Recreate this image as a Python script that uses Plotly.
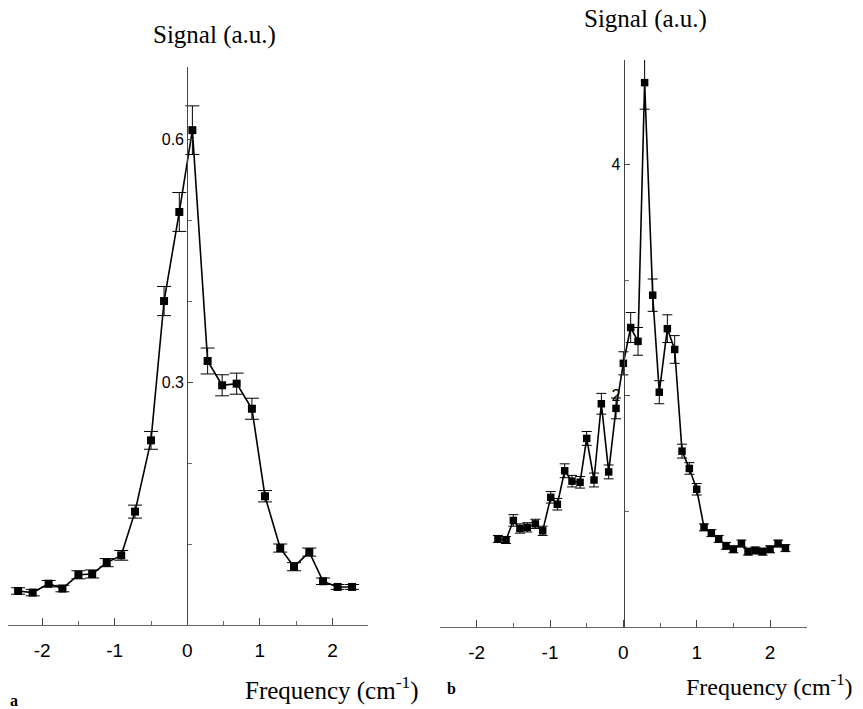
import plotly.graph_objects as go

# ---- Panel a data ----
freq_a = [-2.33, -2.13, -1.91, -1.72, -1.50, -1.31, -1.11, -0.91, -0.72, -0.50,
          -0.32, -0.11, 0.07, 0.28, 0.48, 0.68, 0.89, 1.07, 1.28, 1.47,
          1.68, 1.87, 2.07, 2.27]
signal_a = [0.042, 0.040, 0.051, 0.045, 0.062, 0.063, 0.077, 0.086, 0.140, 0.228,
            0.400, 0.510, 0.611, 0.326, 0.296, 0.298, 0.267, 0.159, 0.095, 0.072,
            0.090, 0.054, 0.047, 0.047]
err_a = [0.004, 0.004, 0.004, 0.004, 0.005, 0.005, 0.005, 0.006, 0.008, 0.011,
         0.018, 0.024, 0.030, 0.016, 0.013, 0.013, 0.013, 0.007, 0.005, 0.005,
         0.005, 0.004, 0.003, 0.003]

# ---- Panel b data ----
freq_b = [-1.71, -1.60, -1.50, -1.41, -1.31, -1.20, -1.10, -0.99, -0.90, -0.80,
          -0.70, -0.59, -0.50, -0.40, -0.30, -0.20, -0.10, 0.00, 0.10, 0.20,
          0.29, 0.40, 0.49, 0.60, 0.70, 0.80, 0.90, 1.00, 1.10, 1.20,
          1.30, 1.40, 1.50, 1.61, 1.70, 1.80, 1.90, 2.00, 2.11, 2.21]
signal_b = [0.76, 0.75, 0.92, 0.85, 0.86, 0.89, 0.83, 1.12, 1.06, 1.35,
            1.26, 1.25, 1.63, 1.27, 1.93, 1.34, 1.89, 2.28, 2.59, 2.47,
            4.71, 2.87, 2.03, 2.58, 2.40, 1.52, 1.37, 1.19, 0.86, 0.81,
            0.76, 0.70, 0.67, 0.72, 0.65, 0.66, 0.65, 0.67, 0.72, 0.68]
err_b = [0.03, 0.03, 0.05, 0.04, 0.04, 0.04, 0.04, 0.05, 0.05, 0.06,
         0.05, 0.05, 0.06, 0.06, 0.09, 0.06, 0.09, 0.10, 0.13, 0.12,
         0.23, 0.14, 0.10, 0.12, 0.12, 0.06, 0.05, 0.05, 0.03, 0.03,
         0.03, 0.03, 0.03, 0.03, 0.03, 0.03, 0.03, 0.03, 0.03, 0.03]

xticks = [-2, -1, 0, 1, 2]
xticktext = ["-2", "-1", "0", "1", "2"]
xminor = [-2.5, -1.5, -0.5, 0.5, 1.5, 2.5]
yticks_a = [0.3, 0.6]
yminor_a = [0.1, 0.2, 0.4, 0.5]
yticks_b = [2, 4]
yminor_b = [1, 3]

# page body has an 8px default margin: figure is placed at (8, 8)
OFF = 8
W, H = 863 - OFF, 709 - OFF

def px(x):
    return (x - OFF) / W

def py(y):
    return 1 - (y - OFF) / H

fig = go.Figure()
fig.add_trace(go.Scatter(
    x=freq_a, y=signal_a, mode="lines+markers",
    line=dict(color="black", width=1.6),
    marker=dict(symbol="square", size=8, color="black"),
    error_y=dict(type="data", array=err_a, visible=True, color="black",
                 thickness=1, width=7),
    cliponaxis=False, xaxis="x", yaxis="y", showlegend=False))
fig.add_trace(go.Scatter(
    x=freq_b, y=signal_b, mode="lines+markers",
    line=dict(color="black", width=1.6),
    marker=dict(symbol="square", size=7.5, color="black"),
    error_y=dict(type="data", array=err_b, visible=True, color="black",
                 thickness=1, width=5),
    cliponaxis=False, xaxis="x2", yaxis="y2", showlegend=False))

tickfont_x = dict(family="Liberation Sans, Arial", size=19, color="black")
tickfont_y = dict(family="Liberation Sans, Arial", size=16, color="black")

def xaxis_cfg(domain, rng, anchor):
    return dict(domain=domain, range=rng, anchor=anchor,
                showline=True, linecolor="#666", linewidth=1.2,
                showgrid=False, zeroline=False,
                tickvals=xticks, ticktext=xticktext, ticks="inside",
                ticklen=7, tickcolor="#444", tickfont=tickfont_x,
                ticklabelstandoff=8,
                minor=dict(tickvals=xminor, ticks="inside", ticklen=4,
                           tickcolor="#666"))

def yaxis_cfg(domain, rng, pos, tv, mv):
    return dict(domain=domain, range=rng, anchor="free", position=pos,
                showline=True, linecolor="#444", linewidth=1.2,
                showgrid=False, zeroline=False,
                tickvals=tv, ticks="inside", ticklen=5, tickcolor="#444",
                tickfont=tickfont_y, ticklabelstandoff=0,
                minor=dict(tickvals=mv, ticks="inside", ticklen=4,
                           tickcolor="#666"))

# panel a: zero at x=187.3 px, 72.6 px per unit; axis from 8 to 368 px
xa_rng = [(8 - 187.3) / 72.6, (368 - 187.3) / 72.6]

fig.update_layout(
    width=W, height=H, margin=dict(l=0, r=0, t=0, b=0),
    paper_bgcolor="white", plot_bgcolor="white",
    xaxis=xaxis_cfg([px(8), px(368)], xa_rng, "y"),
    yaxis=yaxis_cfg([py(625), py(67)], [0, 0.689], px(187.3), yticks_a, yminor_a),
    xaxis2=xaxis_cfg([px(440), px(806.7)], [-2.5, 2.5], "y2"),
    yaxis2=yaxis_cfg([py(626.7), py(60)], [0, 4.906], px(623.7), yticks_b, yminor_b),
)

serif = "Liberation Serif, Times New Roman, serif"
ann = [
    dict(text="Signal (a.u.)", x=px(214), y=py(35), size=25),
    dict(text="Signal (a.u.)", x=px(645), y=py(19), size=25),
    dict(text="Frequency (cm<sup>-1</sup>)", x=px(332), y=py(688), size=25),
    dict(text="Frequency (cm<sup>-1</sup>)", x=px(769), y=py(685), size=24),
]
for a in ann:
    fig.add_annotation(text=a["text"], x=a["x"], y=a["y"],
                       xref="paper", yref="paper", showarrow=False,
                       xanchor="center", yanchor="middle",
                       font=dict(family=serif, size=a["size"], color="black"))
fig.add_annotation(text="<b>a</b>", x=px(14), y=py(700), xref="paper",
                   yref="paper", showarrow=False, xanchor="center",
                   yanchor="middle", font=dict(family=serif, size=16, color="black"))
fig.add_annotation(text="<b>b</b>", x=px(451), y=py(688), xref="paper",
                   yref="paper", showarrow=False, xanchor="center",
                   yanchor="middle", font=dict(family=serif, size=16, color="black"))

fig.write_html("out.html")
